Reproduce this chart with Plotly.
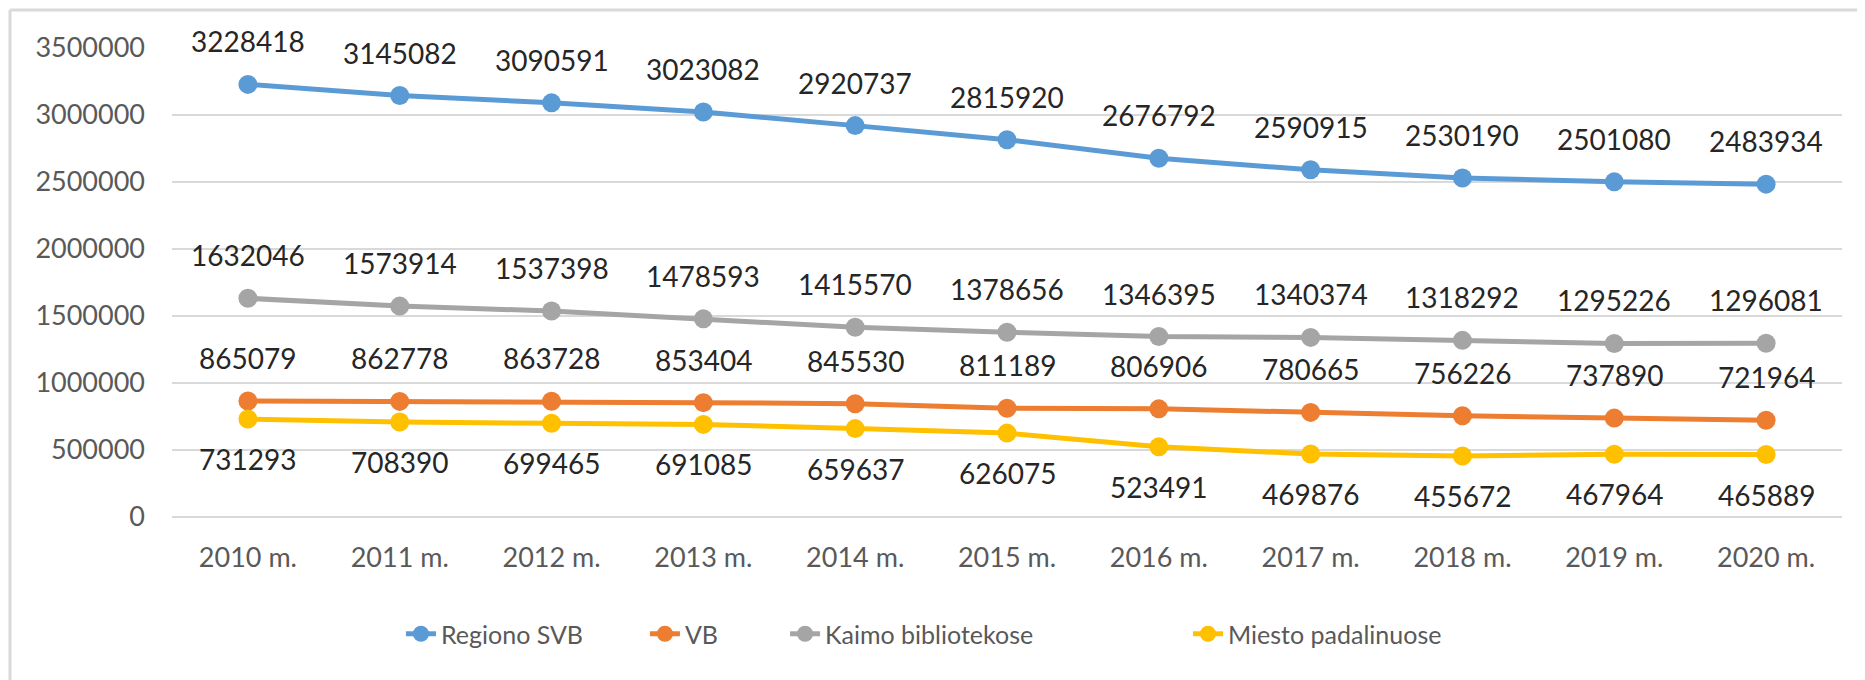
import plotly.graph_objects as go

years = ["2010 m.", "2011 m.", "2012 m.", "2013 m.", "2014 m.", "2015 m.",
         "2016 m.", "2017 m.", "2018 m.", "2019 m.", "2020 m."]
regiono_svb = [3228418, 3145082, 3090591, 3023082, 2920737, 2815920,
               2676792, 2590915, 2530190, 2501080, 2483934]
vb = [865079, 862778, 863728, 853404, 845530, 811189,
      806906, 780665, 756226, 737890, 721964]
kaimo = [1632046, 1573914, 1537398, 1478593, 1415570, 1378656,
         1346395, 1340374, 1318292, 1295226, 1296081]
miesto = [731293, 708390, 699465, 691085, 659637, 626075,
          523491, 469876, 455672, 467964, 465889]

series = [
    ("Regiono SVB", regiono_svb, "#5B9BD5", "legend", 0.1371, 43),
    ("VB", vb, "#ED7D31", "legend2", 0.2832, 43),
    ("Kaimo bibliotekose", kaimo, "#A5A5A5", "legend3", 0.3671, 43),
    ("Miesto padalinuose", miesto, "#FFC000", "legend4", 0.6084, -40),
]

FONT = "Lato, 'Open Sans', sans-serif"
# page body has an 8px default margin; size the figure to fit the window
OFF = 8
W, H = 1865 - OFF, 680 - OFF
L, R, T, B = 172 - OFF, 23, 48 - OFF, 163
pw, ph = W - L - R, H - T - B

fig = go.Figure()
annotations = []
legends = {}
for name, vals, color, leg, lx, shift in series:
    fig.add_trace(go.Scatter(
        x=years, y=vals, name=name, mode="lines+markers",
        line=dict(color=color, width=5),
        marker=dict(color=color, size=19),
        legend=leg,
    ))
    for xv, yv in zip(years, vals):
        annotations.append(dict(
            x=xv, y=yv, xref="x", yref="y", text=str(yv), showarrow=False,
            yshift=shift, font=dict(family=FONT, size=28, color="#262626"),
        ))
    legends[leg] = dict(
        orientation="h", x=lx, xanchor="left", y=-0.2495, yanchor="middle",
        font=dict(family=FONT, size=25, color="#595959"),
        bgcolor="rgba(0,0,0,0)",
    )

# chart border (left and top edges visible)
bx0 = (2 - L) / pw
by1 = (H - B - 2) / ph
by0 = (H - B - H) / ph
shapes = [
    dict(type="line", xref="paper", yref="paper", x0=bx0, x1=bx0, y0=by0, y1=by1,
         line=dict(color="#D9D9D9", width=3)),
    dict(type="line", xref="paper", yref="paper", x0=bx0, x1=(W - L) / pw, y0=by1, y1=by1,
         line=dict(color="#D9D9D9", width=3)),
]

fig.update_layout(
    width=W, height=H,
    margin=dict(l=L, r=R, t=T, b=B),
    paper_bgcolor="white", plot_bgcolor="white",
    font=dict(family=FONT, color="#595959"),
    annotations=annotations,
    shapes=shapes,
    showlegend=True,
    **legends,
)
fig.update_xaxes(
    type="category", range=[-0.5, 10.5], showgrid=False,
    showline=False, zeroline=False, ticks="",
    tickfont=dict(family=FONT, size=27, color="#595959"),
    ticklabelstandoff=22,
)
fig.update_yaxes(
    range=[0, 3500000], dtick=500000, tickformat="d",
    showgrid=True, gridcolor="#D9D9D9", gridwidth=1.5,
    zeroline=True, zerolinecolor="#D9D9D9", zerolinewidth=1.5,
    showline=False, ticks="",
    tickfont=dict(family=FONT, size=27, color="#595959"),
    ticklabelstandoff=26,
)

fig.write_html("out.html")
